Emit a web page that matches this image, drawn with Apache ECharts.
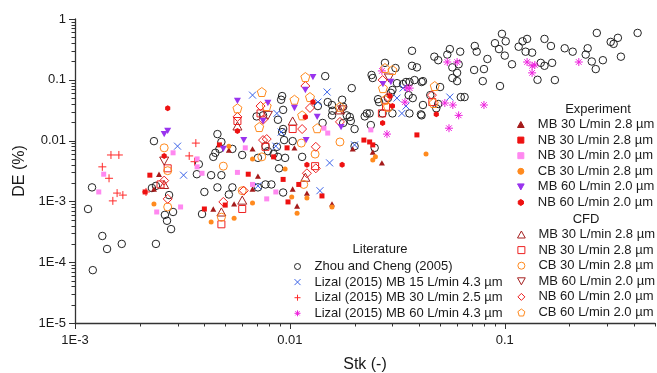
<!DOCTYPE html>
<html>
<head>
<meta charset="utf-8">
<script src="https://cdn.jsdelivr.net/npm/echarts@6/dist/echarts.min.js"></script>
<style>
html, body { margin: 0; padding: 0; background: #fff; }
#chart { width: 657px; height: 373px; }
</style>
</head>
<body>
<div id="chart"></div>
<script>
// axis range
var X_MIN = 0.001, X_MAX = 0.5;
var Y_MIN = 1e-5, Y_MAX = 1;
var xMajorTicks = [0.001, 0.01, 0.1];
var yMajorTicks = [1e-5, 1e-4, 1e-3, 0.01, 0.1, 1];

// Literature
var zhouData = [
	[0.0012,0.0017],[0.00115,0.00075],[0.00134,0.00027],[0.00141,0.000165],[0.00165,0.0002],[0.00121,0.000074],
	[0.00228,0.00166],[0.00238,0.0018],[0.00238,0.0002],[0.00274,0.00127],[0.00262,0.0006],[0.00268,0.00048],[0.00286,0.00067],[0.0028,0.00035],
	[0.00233,0.0098],[0.00377,0.0041],[0.00369,0.0028],[0.0043,0.0027],[0.0048,0.0027],[0.0046,0.0128],[0.0048,0.0095],[0.0047,0.0073],[0.0045,0.0063],[0.0044,0.0054],[0.0054,0.0073],[0.006,0.0058],
	[0.004,0.00143],[0.0039,0.00062],[0.0046,0.0017],[0.0052,0.0013],[0.0054,0.0017],[0.0077,0.0019],[0.0082,0.0019],[0.0093,0.0014],[0.0071,0.0017],
	[0.0092,0.054],[0.0091,0.047],[0.0093,0.032],[0.0088,0.022],[0.0075,0.026],[0.007,0.025],[0.0093,0.0155],[0.0092,0.0138],[0.0094,0.0102],[0.0103,0.0098],[0.0087,0.0079],[0.0077,0.0081],[0.0079,0.0067],[0.0084,0.006],[0.0071,0.0052],[0.0088,0.0054],[0.0095,0.0052],[0.0114,0.0054],[0.0089,0.0035],
	[0.0146,0.115],[0.0194,0.073],[0.0157,0.0385],[0.015,0.043],[0.0158,0.031],[0.0157,0.026],[0.0184,0.026],[0.019,0.0245],[0.0192,0.021],[0.0177,0.0195],[0.0175,0.047],[0.0135,0.037],[0.0142,0.0195],[0.02,0.0155],[0.0223,0.025],[0.0235,0.028],[0.02,0.0081],[0.0177,0.036],
	[0.0277,0.19],[0.024,0.12],[0.0243,0.107],[0.031,0.156],[0.037,0.3],[0.037,0.17],[0.039,0.16],[0.038,0.099],[0.036,0.092],[0.0347,0.092],[0.041,0.092],[0.0336,0.085],[0.0315,0.088],[0.03,0.068],[0.0295,0.061],[0.0286,0.05],[0.0257,0.048],[0.026,0.043],[0.027,0.028],[0.0228,0.028],[0.0238,0.018],[0.03,0.028],[0.0248,0.0076],[0.036,0.028],[0.0407,0.027],[0.0373,0.05],[0.0357,0.056],[0.045,0.056],[0.05,0.076],[0.049,0.04],[0.048,0.034],[0.0416,0.0385],[0.041,0.026],[0.0416,0.095],
	[0.047,0.24],[0.049,0.21],[0.054,0.26],[0.0555,0.32],[0.062,0.29],[0.061,0.18],[0.057,0.16],[0.057,0.107],[0.06,0.13],[0.06,0.095],[0.0624,0.052],[0.065,0.052],[0.0725,0.36],[0.074,0.29],[0.072,0.145],[0.08,0.15],[0.079,0.095],[0.083,0.22],[0.09,0.4],[0.094,0.32],[0.097,0.57],[0.101,0.43],[0.1,0.25],[0.095,0.079],[0.108,0.18],
	[0.116,0.35],[0.121,0.43],[0.127,0.47],[0.125,0.29],[0.134,0.28],[0.142,0.1],[0.147,0.19],[0.153,0.17],[0.153,0.47],[0.164,0.36],[0.166,0.19],[0.171,0.099],[0.19,0.33],[0.207,0.29],[0.238,0.26],[0.243,0.33],[0.254,0.2],[0.265,0.15],[0.286,0.21],[0.311,0.42],[0.321,0.39],[0.336,0.49],[0.347,0.24],[0.268,0.59],[0.415,0.59]
];
var lizal15Data = [
	[0.003,0.0081],[0.0032,0.0027],[0.0067,0.056],[0.0087,0.028],[0.0149,0.063],[0.0135,0.043],[0.0091,0.0138],[0.0086,0.0081],[0.02,0.0085],
	[0.0153,0.0043],[0.0071,0.0018],[0.0138,0.0015],[0.0336,0.073],[0.0315,0.05],[0.0347,0.037],[0.0332,0.028],[0.0555,0.052]
];
var lizal30Data = [
	[0.00134,0.0037],[0.00147,0.0058],[0.0016,0.0058],[0.00144,0.0024],[0.00365,0.0091],[0.0034,0.0056],[0.0036,0.0045],
	[0.00157,0.00137],[0.00167,0.00127],[0.0015,0.00102],[0.00214,0.00143]
];
var lizal60Data = [
	[0.0268,0.14],[0.035,0.073],[0.0361,0.073],[0.0343,0.043],[0.0283,0.0128],[0.054,0.196],[0.06,0.196],[0.0526,0.0415],[0.0573,0.0385],
	[0.08,0.0385],[0.061,0.026],[0.055,0.016],[0.127,0.196],[0.134,0.17],[0.138,0.175],[0.134,0.13],[0.221,0.196]
];

// Experiment
var expMB30a = [
	[0.00246,0.0028],[0.00233,0.0016],[0.0044,0.00075],[0.0055,0.00091],[0.0071,0.0026],[0.0067,0.0073],[0.0067,0.0016],[0.0103,0.0016],
	[0.0108,0.00084],[0.012,0.00137],[0.0157,0.00091],[0.0105,0.0076],[0.0196,0.0073],[0.0243,0.0065],[0.0268,0.0043],[0.0052,0.007]
];
var expNB30a = [
	[0.00223,0.0027],[0.0047,0.0085],[0.00212,0.00143],[0.004,0.00075],[0.005,0.00087],[0.0064,0.0028],[0.0093,0.0023],[0.0098,0.00098],
	[0.011,0.0019],[0.0097,0.0076],[0.0084,0.0054],[0.0141,0.00123],[0.0221,0.0102],[0.0235,0.0095],[0.0243,0.0085],[0.039,0.0124]
];
var expNB30b = [
	[0.00136,0.0028],[0.00286,0.0063],[0.0037,0.005],[0.0037,0.0037],[0.0039,0.0029],[0.00129,0.00143],[0.0024,0.00067],[0.0031,0.00081],
	[0.0057,0.003],[0.0067,0.0019],[0.0086,0.00143],[0.0062,0.0076],[0.0144,0.016],[0.015,0.0133],[0.0238,0.015],[0.0078,0.0011]
];
var expCB30a = [
	[0.00233,0.00091],[0.0043,0.00046],[0.0055,0.00053],[0.0067,0.00094],[0.0102,0.00118],[0.0108,0.00064],[0.012,0.00114],[0.0157,0.00081],
	[0.0052,0.0081],[0.0067,0.005],[0.0095,0.0034],[0.025,0.0054],[0.0243,0.0048],[0.043,0.006]
];
var expMB60b = [
	[0.0026,0.0128],[0.0027,0.0144],[0.0057,0.045],[0.0061,0.0102],[0.0049,0.0073],[0.0128,0.111],[0.0118,0.068],[0.0079,0.0415],
	[0.0105,0.0344],[0.0134,0.0245],[0.0075,0.021],[0.0119,0.0102],[0.0173,0.0167],[0.0295,0.092],[0.0271,0.085]
];
var expNB60b = [
	[0.0027,0.034],[0.0026,0.0056],[0.0057,0.0144],[0.0128,0.043],[0.0118,0.0245],[0.012,0.004],[0.0175,0.004],[0.0292,0.054],
	[0.03,0.037],[0.027,0.0195],[0.048,0.027]
];

// CFD
var cfdMB30a = [
	[0.0026,0.0019],[0.0048,0.00067],[0.006,0.00105],[0.0057,0.0174],[0.0103,0.021],[0.0171,0.032],[0.0118,0.0025]
];
var cfdNB30a = [
	[0.0025,0.0019],[0.006,0.00075],[0.0048,0.00042],[0.0027,0.0035],[0.0057,0.021],[0.0073,0.028],[0.0077,0.0079],[0.0103,0.0155],
	[0.0131,0.0038],[0.0268,0.028],[0.028,0.036],[0.046,0.043]
];
var cfdCB30a = [
	[0.0027,0.0032],[0.0027,0.00081],[0.0048,0.00055],[0.006,0.0015],[0.0116,0.0019],[0.0074,0.0054],[0.0131,0.006],[0.0049,0.0038],
	[0.0113,0.0091],[0.0171,0.0095],[0.0026,0.0076]
];
var cfdMB60b = [
	[0.0175,0.032],[0.0289,0.107],[0.0079,0.026],[0.0026,0.0046]
];
var cfdNB60b = [
	[0.0026,0.0022],[0.0027,0.0011],[0.0049,0.00098],[0.0061,0.0015],[0.0073,0.037],[0.0075,0.022],[0.0078,0.0106],[0.0114,0.0155],
	[0.0124,0.0344],[0.012,0.0029],[0.0057,0.0245],[0.027,0.099],[0.0286,0.052],[0.0118,0.079],[0.0171,0.0203],[0.0132,0.0079],
	[0.0132,0.0035],[0.0458,0.056],[0.0075,0.0102]
];
var cfdCB60b = [
	[0.0118,0.111],[0.0074,0.063],[0.0105,0.047],[0.0057,0.034],[0.0078,0.037],[0.0124,0.052],[0.0134,0.016],[0.0114,0.026],
	[0.0171,0.036],[0.0072,0.0167],[0.0277,0.156],[0.03,0.145],[0.0271,0.073],[0.0277,0.047],[0.0286,0.036],[0.0472,0.079],[0.0467,0.0415]
];

var FONT = "'Liberation Sans', Arial, sans-serif";
var TXT = '#1a1a1a';

// symbols as paths so the legend keeps their aspect
var symCross = 'path://M0,0L10,10M10,0L0,10';
var symPlus = 'path://M5,0L5,10M0,5L10,5';
var symStar = 'path://M5,0L5,10M0,5L10,5M1.5,1.5L8.5,8.5M8.5,1.5L1.5,8.5';
var symPenta = 'path://M5,0L10,3.8L8.1,10L1.9,10L0,3.8Z';
var symHex = 'path://M5,0L9.3,2.5L9.3,7.5L5,10L0.7,7.5L0.7,2.5Z';
var symTri = 'path://M5,0L10,9L0,9Z';
var symTriDown = 'path://M0,0L10,0L5,9Z';
var symRect = 'path://M0,0L10,0L10,10L0,10Z';
var symDiamond = 'path://M5,0L10,5L5,10L0,5Z';

function filled(name, data, symbol, size, color) {
	return {
		name: name, type: 'scatter', data: data, symbol: symbol, symbolSize: size,
		symbolKeepAspect: true,
		itemStyle: { color: color, borderColor: color, borderWidth: 0, opacity: 1 }
	};
}
function hollow(name, data, symbol, size, color) {
	return {
		name: name, type: 'scatter', data: data, symbol: symbol, symbolSize: size,
		symbolKeepAspect: true,
		itemStyle: { color: 'rgba(255,255,255,0)', borderColor: color, borderWidth: 1, opacity: 1 }
	};
}

// tick marks (major + minor) drawn through the axes
var xTickData = [], yTickData = [];
xMajorTicks.forEach(function(v) {
	xTickData.push([v, Y_MIN, 6]);
	for (var m = 2; m <= 9; m++) {
		if (v * m <= X_MAX * 1.0001) xTickData.push([v * m, Y_MIN, 3.5]);
	}
});
yMajorTicks.forEach(function(v) {
	yTickData.push([X_MIN, v, 6]);
	if (v < 1) {
		for (var m = 2; m <= 9; m++) yTickData.push([X_MIN, v * m, 3.5]);
	}
});

var tickSeries = [{
	type: 'custom', silent: true, data: xTickData, encode: { x: 0, y: 1 }, z: 1,
	renderItem: function(params, api) {
		var p = api.coord([api.value(0), api.value(1)]);
		var x = Math.round(p[0]) + 0.5;
		return { type: 'line', shape: { x1: x, y1: p[1], x2: x, y2: p[1] + api.value(2) }, style: { stroke: '#333', lineWidth: 1 } };
	}
}, {
	type: 'custom', silent: true, data: yTickData, encode: { x: 0, y: 1 }, z: 1,
	renderItem: function(params, api) {
		var p = api.coord([api.value(0), api.value(1)]);
		var y = Math.round(p[1]) + 0.5;
		return { type: 'line', shape: { x1: p[0] - api.value(2), y1: y, x2: p[0], y2: y }, style: { stroke: '#333', lineWidth: 1 } };
	}
}];

function logLabel(v) {
	var e = Math.log(v) / Math.LN10;
	var r = Math.round(e);
	if (Math.abs(e - r) > 0.01) return '';
	if (r === 0) return '1';
	if (r === -1) return '0.1';
	if (r === -2) return '0.01';
	return '1E' + r;
}

var litNames = ['Zhou and Cheng (2005)', 'Lizal (2015) MB 15 L/min 4.3 µm', 'Lizal (2015) MB 30 L/min 2.5 µm', 'Lizal (2015) MB 60 L/min 4.3 µm'];
var expNames = ['MB 30 L/min 2.8 µm', 'NB 30 L/min 2.8 µm', 'NB 30 L/min 2.0 µm', 'CB 30 L/min 2.8 µm', 'MB 60 L/min 2.0 µm', 'NB 60 L/min 2.0 µm'];
var cfdNames = ['MB 30 L/min 2.8 µm ', 'NB 30 L/min 2.8 µm ', 'CB 30 L/min 2.8 µm ', 'MB 60 L/min 2.0 µm ', 'NB 60 L/min 2.0 µm ', 'CB 60 L/min 2.0 µm '];

var series = [
	hollow(litNames[0], zhouData, 'circle', 7.5, '#222'),
	hollow(litNames[1], lizal15Data, symCross, 7, '#3a62e8'),
	hollow(litNames[2], lizal30Data, symPlus, 8, '#ff2a2a'),
	hollow(litNames[3], lizal60Data, symStar, 8, '#ee22dd'),
	hollow(cfdNames[0], cfdMB30a, symTri, 9, '#a52020'),
	hollow(cfdNames[1], cfdNB30a, symRect, 7, '#ee2222'),
	hollow(cfdNames[2], cfdCB30a, 'circle', 8, '#ff8a1e'),
	hollow(cfdNames[3], cfdMB60b, symTriDown, 9, '#a52020'),
	hollow(cfdNames[4], cfdNB60b, symDiamond, 9, '#ee2222'),
	hollow(cfdNames[5], cfdCB60b, symPenta, 9, '#ff8a1e'),
	filled(expNames[0], expMB30a, symTri, 6, '#a51a1a'),
	filled(expNames[1], expNB30a, symRect, 5, '#ee1111'),
	filled(expNames[2], expNB30b, symRect, 5, '#ff88f0'),
	filled(expNames[3], expCB30a, 'circle', 5, '#ff8a1e'),
	filled(expNames[4], expMB60b, symTriDown, 7, '#9933ee'),
	filled(expNames[5], expNB60b, symHex, 6, '#ee1111')
].concat(tickSeries);

function legendBlock(names, left, top, h) {
	return {
		data: names, orient: 'vertical', left: left, top: top, padding: 0,
		itemWidth: 24, itemHeight: h, itemGap: 0.6, selectedMode: false,
		symbolKeepAspect: true,
		itemStyle: { borderWidth: 1 },
		textStyle: { fontFamily: FONT, fontSize: 13, color: TXT, lineHeight: 15 }
	};
}

var chart = echarts.init(document.getElementById('chart'), null, { renderer: 'canvas' });
chart.setOption({
	animation: false,
	backgroundColor: '#fff',
	grid: { left: 75, right: 2, top: 19, bottom: 50, containLabel: false, outerBoundsMode: 'none' },
	xAxis: {
		type: 'log', logBase: 10, min: X_MIN, max: X_MAX,
		name: 'Stk (-)', nameLocation: 'middle', nameGap: 34,
		nameTextStyle: { fontFamily: FONT, fontSize: 16, color: TXT },
		axisLine: { lineStyle: { color: '#333', width: 1.3 } },
		axisTick: { show: false },
		splitLine: { show: false },
		axisLabel: { fontFamily: FONT, fontSize: 13, color: TXT, margin: 11, showMaxLabel: false, formatter: logLabel }
	},
	yAxis: {
		type: 'log', logBase: 10, min: Y_MIN, max: Y_MAX,
		name: 'DE (%)', nameLocation: 'middle', nameGap: 45, nameRotate: 90,
		nameTextStyle: { fontFamily: FONT, fontSize: 16, color: TXT },
		axisLine: { lineStyle: { color: '#333', width: 1.3 } },
		axisTick: { show: false },
		splitLine: { show: false },
		axisLabel: { fontFamily: FONT, fontSize: 13, color: TXT, margin: 9, formatter: logLabel }
	},
	legend: [
		legendBlock(litNames, 294, 259, 6),
		legendBlock(expNames, 517, 117, 6),
		legendBlock(cfdNames, 517, 227, 7)
	],
	graphic: [
		{ type: 'text', x: 380, y: 249, style: { text: 'Literature', align: 'center', verticalAlign: 'middle', textAlign: 'center', textVerticalAlign: 'middle', fontFamily: FONT, fontSize: 13, fill: TXT } },
		{ type: 'text', x: 598, y: 109, style: { text: 'Experiment', align: 'center', verticalAlign: 'middle', textAlign: 'center', textVerticalAlign: 'middle', fontFamily: FONT, fontSize: 13, fill: TXT } },
		{ type: 'text', x: 586, y: 219, style: { text: 'CFD', align: 'center', verticalAlign: 'middle', textAlign: 'center', textVerticalAlign: 'middle', fontFamily: FONT, fontSize: 13, fill: TXT } }
	],
	series: series
});
</script>
</body>
</html>
